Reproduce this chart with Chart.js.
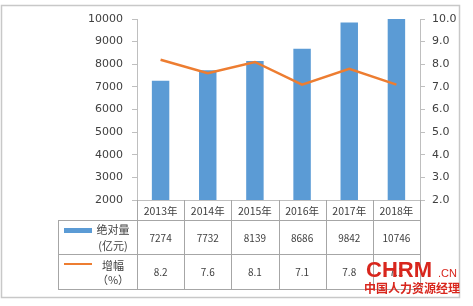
<!DOCTYPE html>
<html>
<head>
<meta charset="utf-8">
<script src="https://cdn.jsdelivr.net/npm/chart.js@4"></script>
<style>
  html, body { margin: 0; padding: 0; background: #fff; }
  #wrap { width: 473px; height: 306px; }
</style>
</head>
<body>
<div id="wrap"><canvas id="chart" width="473" height="306"></canvas></div>
<script>
const years = ['2013年', '2014年', '2015年', '2016年', '2017年', '2018年'];
const amount = [7274, 7732, 8139, 8686, 9842, 10746];   // 绝对量（亿元）
const growth = [8.2, 7.6, 8.1, 7.1, 7.8, 7.1];          // 增幅（%）
const amountLabel = ['绝对量', '(亿元)'];
const growthLabel = ['增幅', '（%）'];

const BLUE = '#5b9bd5';
const ORANGE = '#ed7d31';
const TEXT = '#404040';
const LINE = '#a6a6a6';

// -- tablo + çerçeve + filigran --
const tablePlugin = {
  id: 'dataTable',
  afterDraw(chart) {
    const { ctx, scales: { x } } = chart;
    const top = chart.chartArea.bottom;
    const rows = [top, top + 20, top + 54, top + 89];
    const step = x.getPixelForValue(1) - x.getPixelForValue(0);
    const tableLeft = 58;
    const colLeft = x.getPixelForValue(0) - step / 2;
    const colRight = x.getPixelForValue(years.length - 1) + step / 2;

    ctx.save();
    ctx.strokeStyle = LINE;
    ctx.lineWidth = 1;
    ctx.beginPath();
    // yatay çizgiler
    [rows[1], rows[2], rows[3]].forEach(y => {
      ctx.moveTo(tableLeft, Math.round(y) + 0.5);
      ctx.lineTo(colRight, Math.round(y) + 0.5);
    });
    // dikey çizgiler
    for (let i = 0; i <= years.length; i++) {
      const xx = Math.round(colLeft + i * step) + 0.5;
      ctx.moveTo(xx, rows[0]);
      ctx.lineTo(xx, rows[3]);
    }
    ctx.moveTo(tableLeft + 0.5, rows[1]);
    ctx.lineTo(tableLeft + 0.5, rows[3]);
    ctx.stroke();

    // lejant anahtarları
    ctx.fillStyle = BLUE;
    ctx.fillRect(64, rows[1] + 8, 28, 5);
    ctx.strokeStyle = ORANGE;
    ctx.lineWidth = 2;
    ctx.beginPath();
    ctx.moveTo(64, rows[2] + 10);
    ctx.lineTo(92, rows[2] + 10);
    ctx.stroke();

    ctx.fillStyle = TEXT;
    ctx.textAlign = 'center';
    ctx.textBaseline = 'middle';
    ctx.font = '11px "Noto Sans CJK SC"';
    ctx.fillText(amountLabel[0], 113, rows[1] + 10);
    ctx.fillText(amountLabel[1], 113, rows[1] + 26);
    ctx.fillText(growthLabel[0], 113, rows[2] + 12);
    ctx.fillText(growthLabel[1], 113, rows[2] + 26);

    ctx.font = '10px "Noto Sans CJK SC"';
    years.forEach((_, i) => {
      const cx = x.getPixelForValue(i);
      ctx.fillText(String(amount[i]), cx, (rows[1] + rows[2]) / 2 + 1);
      ctx.fillText(growth[i].toFixed(1), cx, (rows[2] + rows[3]) / 2 + 1);
    });

    // dış çerçeve
    ctx.strokeStyle = '#c8c8c8';
    ctx.lineWidth = 1.5;
    ctx.strokeRect(1.5, 5.5, 458, 292);

    // filigran
    ctx.fillStyle = '#d8261d';
    ctx.textAlign = 'left';
    ctx.textBaseline = 'alphabetic';
    ctx.font = 'bold 22px "Liberation Sans"';
    ctx.fillText('CHRM', 366, 277);
    ctx.font = '11px "Liberation Sans"';
    ctx.fillText('.CN', 438, 277);
    ctx.font = 'bold 12px "Noto Sans CJK SC"';
    ctx.fillText('中国人力资源经理', 364, 293);
    ctx.restore();
  }
};

new Chart(document.getElementById('chart'), {
  data: {
    labels: years,
    datasets: [
      {
        type: 'line',
        label: '增幅（%）',
        data: growth,
        yAxisID: 'y1',
        borderColor: ORANGE,
        borderWidth: 2.5,
        pointRadius: 0,
        tension: 0,
        order: 0
      },
      {
        type: 'bar',
        label: '绝对量（亿元）',
        data: amount,
        yAxisID: 'y',
        backgroundColor: BLUE,
        barPercentage: 0.37,
        categoryPercentage: 1,
        order: 1
      }
    ]
  },
  options: {
    responsive: false,
    animation: false,
    layout: { padding: { top: 19, left: 0, right: 0, bottom: 0 } },
    plugins: { legend: { display: false }, tooltip: { enabled: false } },
    scales: {
      x: {
        offset: true,
        grid: { display: false },
        border: { display: true, color: '#bfbfbf' },
        ticks: { color: TEXT, padding: -3, font: { family: 'Noto Sans CJK SC', size: 10.5 } },
        afterFit: s => { s.height = 106; }
      },
      y: {
        position: 'left',
        min: 2000,
        max: 10000,
        grid: { display: true, drawOnChartArea: false, drawTicks: true, tickLength: 5, color: '#bfbfbf' },
        border: { display: true, color: '#bfbfbf' },
        ticks: {
          stepSize: 1000,
          color: TEXT,
          padding: 9,
          font: { family: 'DejaVu Sans', size: 11 },
          callback: v => String(v)
        },
        afterFit: s => { s.width = 137; }
      },
      y1: {
        position: 'right',
        min: 2,
        max: 10,
        grid: { display: true, drawOnChartArea: false, drawTicks: true, tickLength: 5, color: '#bfbfbf' },
        border: { display: true, color: '#bfbfbf' },
        ticks: {
          stepSize: 1,
          color: TEXT,
          padding: 7,
          font: { family: 'DejaVu Sans', size: 11 },
          callback: v => v.toFixed(1)
        },
        afterFit: s => { s.width = 53; }
      }
    }
  },
  plugins: [tablePlugin]
});
</script>
</body>
</html>
